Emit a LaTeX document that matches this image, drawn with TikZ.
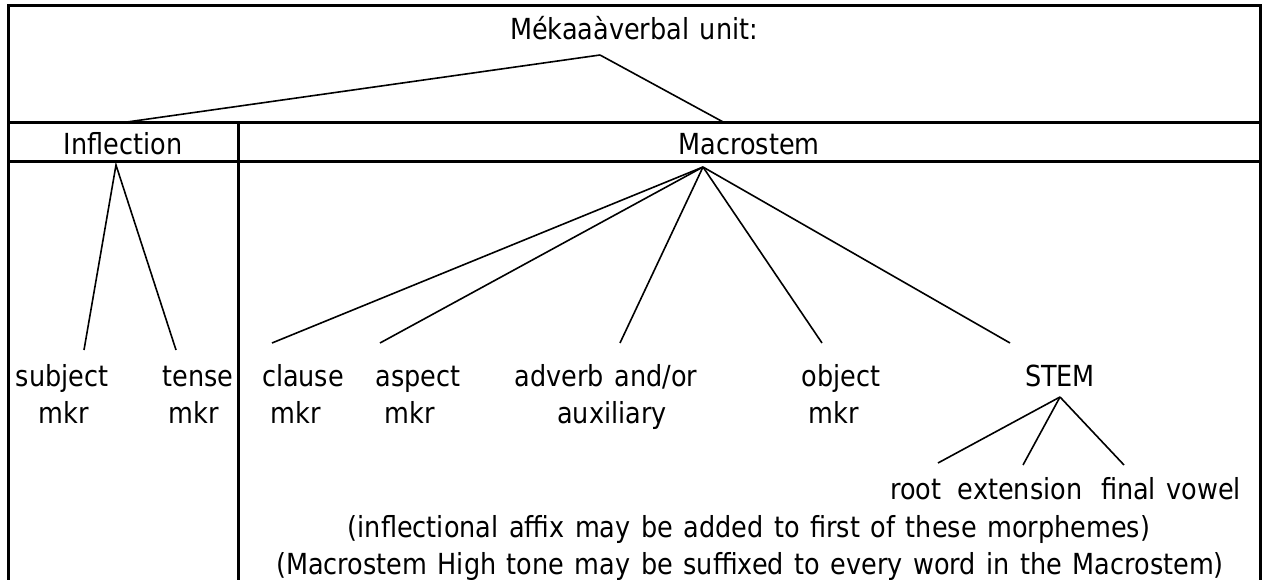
\documentclass[tikz,border=0pt]{standalone}
\usepackage{fontspec}
\setmainfont{DejaVu Sans}[FakeStretch=0.88,WordSpace=1.3]
\begin{document}
\begin{tikzpicture}[x=1pt,y=-1pt,
  frame/.style={line width=3pt},
  branch/.style={line width=1.6pt},
  lbl/.style={inner sep=0pt, anchor=base, font=\fontsize{29}{37}\selectfont}]
\useasboundingbox (0,0) rectangle (1262,580);
% frame
\draw[frame] (8,580) -- (8,6) -- (1260.5,6) -- (1260.5,580);
\draw[frame] (8,123) -- (1260.5,123);
\draw[frame] (8,162) -- (1260.5,162);
\draw[frame] (238,123) -- (238,580);
% headings
\node[lbl] (title) at (634,40) {Mékaaàverbal unit:};
\node[lbl] (infl) at (123,155) {Inflection};
\node[lbl] (macro) at (749,155) {Macrostem};
% apexes
\coordinate (tA) at (600,55);
\coordinate (tL) at (120,123);
\coordinate (tR) at (725,123);
\coordinate (iA) at (116,165);
\coordinate (iL) at (84,350);
\coordinate (iR) at (176,350);
\coordinate (mA) at (703,167);
\coordinate (m1) at (272,343);
\coordinate (m2) at (380,343);
\coordinate (m3) at (620,343);
\coordinate (m4) at (822,343);
\coordinate (m5) at (1010,343);
\coordinate (sA) at (1060,397);
\coordinate (s1) at (938,463);
\coordinate (s2) at (1023,465);
\coordinate (s3) at (1124,465);
% labels
\node[lbl] (subj) at (62,386) {subject};
\node[lbl] (subj2) at (64,423) {mkr};
\node[lbl] (tense) at (198,386) {tense};
\node[lbl] (tense2) at (194,423) {mkr};
\node[lbl] (cl) at (303,386) {clause};
\node[lbl] (cl2) at (296,423) {mkr};
\node[lbl] (asp) at (418,386) {aspect};
\node[lbl] (asp2) at (410,423) {mkr};
\node[lbl] (adv) at (606,386) {adverb and/or};
\node[lbl] (adv2) at (612,423) {auxiliary};
\node[lbl] (obj) at (841,386) {object};
\node[lbl] (obj2) at (834,423) {mkr};
\node[lbl] (stem) at (1060,386) {STEM};
\node[lbl] (root) at (916,499) {root};
\node[lbl] (ext) at (1020,499) {extension};
\node[lbl] (fv) at (1171,499) {final vowel};
\node[lbl] (note1) at (749,537) {(inflectional affix may be added to first of these morphemes)};
\node[lbl] (note2) at (750,574) {(Macrostem High tone may be suffixed to every word in the Macrostem)};
% branches
\draw[branch] (tL) -- (tA) (tA) -- (tR);
\draw[branch] (iL) -- (iA) -- (iR);
\foreach \e in {m1,m2,m3,m4,m5} \draw[branch] (mA) -- (\e);
\foreach \e in {s1,s2,s3} \draw[branch] (sA) -- (\e);
\end{tikzpicture}
\end{document}
